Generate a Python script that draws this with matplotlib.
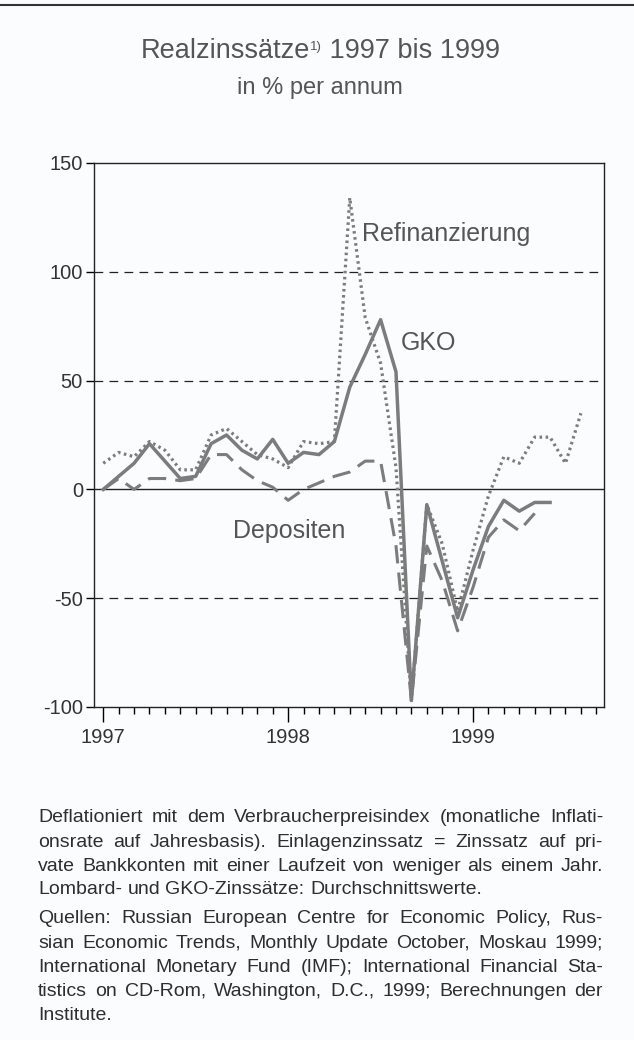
import matplotlib
matplotlib.use('Agg')
import matplotlib.pyplot as plt
from matplotlib.lines import Line2D

# ---- data (monthly, starting January 1997) ----
refi = [12, 17, 15, 22, 18, 9, 9, 25, 28, 22, 16, 14, 10, 22, 21, 22,
        134, 79, 58, 10, -97, -7, -25, -56, -28, -3, 15, 12, 24, 24, 12, 35]
gko = [0, 6, 12, 21, 13, 5, 6, 21, 25, 18, 14, 23, 12, 17, 16, 22,
       47, 62, 78, 54, -97, -7, -33, -59, -37, -17, -5, -10, -6, -6]
depo = [0, 5, 0, 5, 5, 4, 5, 16, 16, 9, 4, 1, -5, 0, 3, 6,
        8, 13, 13, -26, -97, -26, -42, -65, -45, -22, -14, -19, -11]
year_ticks = [0, 12, 24]
year_labels = ['1997', '1998', '1999']
y_ticks = [150, 100, 50, 0, -50, -100]
series_labels = ['Refinanzierung', 'GKO', 'Depositen']

FONT = ['Liberation Sans', 'DejaVu Sans']
plt.rcParams['font.family'] = FONT
W, H = 634, 1040
BG = '#fbfcfd'
fig = plt.figure(figsize=(W / 100, H / 100), dpi=100)
fig.patch.set_facecolor(BG)

ax = fig.add_axes([94 / W, 1 - 707 / H, 510 / W, 544 / H])
ax.set_facecolor(BG)
ax.set_xlim(-0.6, 32.5)
ax.set_ylim(-100, 150)

for yv in [100, 50, -50]:
    ax.axhline(yv, color='#222222', lw=0.9, ls=(0, (7, 5)), zorder=1)
ax.axhline(0, color='#222222', lw=1.0, zorder=1)

lc = '#7c7c7c'
ax.plot(range(len(depo)), depo, color=lc, lw=2.2, ls=(0, (6, 3)), zorder=2)
ax.plot(range(len(refi)), refi, color=lc, lw=2.3, ls=(0, (0.8, 1.1)),
        dash_capstyle='butt', zorder=3)
ax.plot(range(len(gko)), gko, color=lc, lw=2.5, zorder=4)

ax.set_xticks(year_ticks)
ax.set_xticklabels(year_labels)
ax.set_xticks(range(0, 33), minor=True)
ax.tick_params(axis='x', which='major', direction='out', length=11, width=1,
               labelsize=14.5, labelcolor='#333333', pad=4)
ax.tick_params(axis='x', which='minor', direction='out', length=5, width=1)
ax.set_yticks(y_ticks)
ax.set_yticklabels([str(v) for v in y_ticks])
ax.tick_params(axis='y', direction='out', length=6, width=1,
               labelsize=14.5, labelcolor='#333333', pad=2)
for s in ax.spines.values():
    s.set_linewidth(1.0)
    s.set_color('#222222')

tc = '#555555'
ax.text(16.8, 117.5, series_labels[0], fontsize=18, color=tc, va='center', ha='left')
ax.text(19.3, 67.5, series_labels[1], fontsize=18, color=tc, va='center', ha='left')
ax.text(8.45, -19, series_labels[2], fontsize=18, color=tc, va='center', ha='left')

renderer = fig.canvas.get_renderer()


def measure(s, size):
    t = fig.text(0, 0, s, fontsize=size)
    w = t.get_window_extent(renderer).width
    t.remove()
    return w


# ---- title with superscript ----
def centered_pieces(pieces, cx, y_base):
    widths = [measure(s, sz) for s, sz, dy in pieces]
    x = cx - sum(widths) / 2
    for (s, sz, dy), w in zip(pieces, widths):
        fig.text(x / W, 1 - (y_base - dy) / H, s, fontsize=sz, color=tc,
                 va='baseline', ha='left')
        x += w


centered_pieces([('Realzinssätze', 19.5, 0), ('1)', 9.5, 8), (' 1997 bis 1999', 19.5, 0)],
                320, 58)
centered_pieces([('in % per annum', 17, 0)], 320, 94)

# ---- footnotes, justified ----
L, R = 38, 603
FS = 14
fcol = '#2e2e2e'
para1 = ["Deflationiert mit dem Verbraucherpreisindex (monatliche Inflati-",
         "onsrate auf Jahresbasis). Einlagenzinssatz = Zinssatz auf pri-",
         "vate Bankkonten mit einer Laufzeit von weniger als einem Jahr.",
         "Lombard- und GKO-Zinssätze: Durchschnittswerte."]
para2 = ["Quellen: Russian European Centre for Economic Policy, Rus-",
         "sian Economic Trends, Monthly Update October, Moskau 1999;",
         "International Monetary Fund (IMF); International Financial Sta-",
         "tistics on CD-Rom, Washington, D.C., 1999; Berechnungen der",
         "Institute."]


def draw_line(line, y_base, justify):
    words = line.split(' ')
    widths = [measure(w, FS) for w in words]
    if justify and len(words) > 1:
        gap = (R - L - sum(widths)) / (len(words) - 1)
    else:
        gap = measure('a a', FS) - measure('aa', FS)
    x = L
    for w, wd in zip(words, widths):
        fig.text(x / W, 1 - y_base / H, w, fontsize=FS, color=fcol,
                 va='baseline', ha='left')
        x += wd + gap


base1 = [822, 847, 871, 894]
base2 = [923, 948, 972, 996, 1020]
for i, (ln, yb) in enumerate(zip(para1, base1)):
    draw_line(ln, yb, i < len(para1) - 1)
for i, (ln, yb) in enumerate(zip(para2, base2)):
    draw_line(ln, yb, i < len(para2) - 1)

# frame line at the top of the panel
fig.add_artist(Line2D([0, 1], [1 - 5 / H, 1 - 5 / H], transform=fig.transFigure,
                      color='#333333', lw=1.5))

fig.savefig('out.png', dpi=100, facecolor=BG)
